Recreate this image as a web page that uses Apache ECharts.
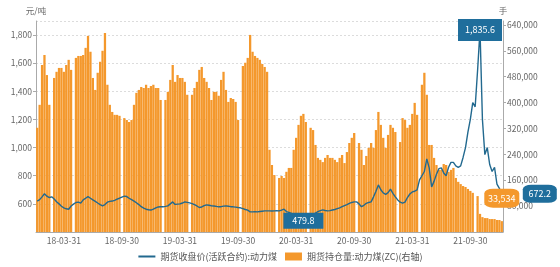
<!DOCTYPE html>
<html>
<head>
<meta charset="utf-8">
<script src="https://cdn.jsdelivr.net/npm/echarts@6/dist/echarts.min.js"></script>
<style>html,body{margin:0;padding:0;background:#fff;}#c{width:560px;height:267px;}</style>
</head>
<body>
<div id="c"></div>
<script>
// categories: 4 sampling dates per month, Jan 2018 – Jan 2022
const years = [2018, 2019, 2020, 2021];
const categories = [];
years.forEach(y => {
  for (let m = 1; m <= 12; m++) {
    const last = new Date(y, m, 0).getDate();
    [8, 15, 23, last].forEach(d => {
      categories.push(String(y).slice(2) + '-' + String(m).padStart(2, '0') + '-' + String(d).padStart(2, '0'));
    });
  }
});
categories.push('22-01-08');

const xLabelDates = ['03-31', '09-30'];

// 期货收盘价(活跃合约):动力煤 (元/吨)
const closePrice = [
620,630,650,672,655,645,650,635,615,600,583,572,565,562,585,598,610,612,605,628,
640,652,640,628,618,606,595,585,595,612,618,620,625,633,640,648,655,652,640,630,
620,608,595,580,570,562,558,556,562,572,578,580,579,582,586,600,614,596,598,600,
606,614,611,607,602,594,585,574,578,588,593,590,587,585,582,579,580,584,586,583,
580,579,577,574,572,566,560,555,543,543,544,543,546,548,550,550,550,549,550,551,
550,556,562,545,540,532,522,512,505,492,479.8,486,498,510,522,535,545,552,557,553,
550,552,556,560,566,572,580,588,595,603,610,614,614,600,580,590,604,610,614,650,
690,735,700,678,668,680,705,675,650,628,612,605,612,645,670,685,690,700,770,800,
830,920,856,721,760,810,850,856,820,800,860,895,895,870,860,870,930,1000,1110,1200,
1320,1290,1550,1835.6,1200,950,1000,880,830,860,740,710,672.2
];

// 期货持仓量:动力煤(ZC) (手, 右轴)
const openInterest = [
322000,393000,516000,547000,485000,393000,0,476000,495000,507000,507000,495000,516000,532000,501000,0,538000,544000,544000,547000,
569000,606000,557000,476000,439000,492000,526000,560000,615000,455000,393000,371000,362000,362000,359000,0,352000,346000,340000,346000,
393000,430000,439000,448000,445000,455000,445000,451000,455000,445000,445000,408000,0,408000,433000,470000,516000,464000,485000,476000,
476000,464000,424000,0,424000,445000,464000,501000,510000,476000,464000,445000,408000,433000,433000,421000,470000,495000,439000,402000,
414000,411000,402000,346000,0,513000,523000,538000,609000,557000,544000,538000,532000,519000,510000,495000,254000,207000,176000,0,
167000,173000,167000,186000,198000,198000,254000,291000,331000,359000,365000,340000,0,322000,315000,269000,229000,223000,216000,229000,
238000,229000,229000,223000,216000,229000,238000,213000,247000,275000,291000,306000,0,275000,254000,207000,235000,260000,275000,260000,
315000,371000,331000,291000,260000,300000,331000,322000,309000,0,278000,352000,346000,322000,331000,365000,399000,362000,0,455000,
492000,424000,269000,269000,229000,207000,192000,192000,210000,207000,186000,192000,198000,167000,155000,148000,142000,139000,133000,127000,
121000,0,111000,56000,46000,43000,43000,40000,40000,40000,37000,37000,33534
];

const leftTicks = {min: 400, max: 1900, interval: 200};
const rightTicks = {min: 0, max: 652000, interval: 80000};

const BLUE = '#22698f';
const BOX_BLUE = '#1f6e9c';
const ORANGE = '#f4982c';
const FONT = '"Noto Sans CJK SC", "Noto Sans", sans-serif';

const fmt = (v, d) => Number(v).toLocaleString('en-US', {minimumFractionDigits: d, maximumFractionDigits: d});
const lastIdx = categories.length - 1;

const chart = echarts.init(document.getElementById('c'), null, {renderer: 'canvas'});
chart.setOption({
  animation: false,
  textStyle: {fontFamily: FONT},
  grid: {left: 36, right: 57, top: 21, bottom: 35},
  legend: {
    bottom: 1, left: 'center', itemWidth: 17, itemHeight: 8, itemGap: 8,
    textStyle: {fontSize: 9, color: '#555', fontFamily: FONT},
    data: [
      {name: '期货收盘价(活跃合约):动力煤', itemStyle: {opacity: 0}},
      {name: '期货持仓量:动力煤(ZC)(右轴)', icon: 'rect'}
    ]
  },
  xAxis: {
    type: 'category', data: categories, boundaryGap: true,
    axisLine: {lineStyle: {color: '#aaa'}},
    axisTick: {alignWithLabel: true, length: 4, lineStyle: {color: '#aaa'},
      interval: (i) => i % 4 === 3},
    axisLabel: {fontSize: 8.5, color: '#666', margin: 5, fontFamily: FONT,
      interval: (i, v) => xLabelDates.some(s => v.endsWith(s))}
  },
  yAxis: [{
    type: 'value', min: leftTicks.min, max: leftTicks.max, interval: leftTicks.interval,
    name: '元/吨', nameGap: 6, nameTextStyle: {fontSize: 8.5, color: '#666', fontFamily: FONT},
    axisLine: {show: true, lineStyle: {color: '#aaa'}},
    axisTick: {show: true, length: 3, lineStyle: {color: '#aaa'}},
    axisLabel: {fontSize: 8.5, color: '#666', margin: 4, showMinLabel: false, showMaxLabel: false, fontFamily: FONT},
    splitLine: {show: true, lineStyle: {color: '#dcdcdc', type: [2, 2]}}
  }, {
    type: 'value', min: rightTicks.min, max: rightTicks.max, interval: rightTicks.interval,
    name: '手', nameGap: 6, nameTextStyle: {fontSize: 8.5, color: '#666', fontFamily: FONT},
    axisLine: {show: true, lineStyle: {color: '#aaa'}},
    axisTick: {show: true, length: 3, lineStyle: {color: '#aaa'}},
    axisLabel: {fontSize: 8.5, color: '#666', margin: 4, showMinLabel: false, showMaxLabel: false, fontFamily: FONT},
    splitLine: {show: false}
  }],
  series: [{
    name: '期货持仓量:动力煤(ZC)(右轴)', type: 'bar', yAxisIndex: 1, data: openInterest,
    barCategoryGap: '6%', itemStyle: {color: ORANGE}, z: 2,
    markPoint: {
      symbol: 'roundRect', symbolSize: [35, 19], symbolOffset: [0, -23],
      itemStyle: {color: ORANGE},
      label: {color: '#fff', fontSize: 9, fontFamily: FONT, formatter: p => fmt(p.value, 0)},
      data: [{coord: [categories[lastIdx], openInterest[lastIdx]], value: openInterest[lastIdx]}]
    }
  }, {
    name: '期货收盘价(活跃合约):动力煤', type: 'line', yAxisIndex: 0, data: closePrice,
    symbol: 'none', lineStyle: {color: BLUE, width: 1.4}, itemStyle: {color: BLUE}, z: 3,
    markPoint: {
      symbol: 'rect', itemStyle: {color: BOX_BLUE, opacity: 1},
      label: {color: '#fff', fontSize: 9, fontFamily: FONT, formatter: p => fmt(p.value, 1)},
      data: [
        {type: 'max', symbolSize: [44, 22]},
        {type: 'min', symbolSize: [40, 16]},
        {coord: [categories[lastIdx], closePrice[lastIdx]], value: closePrice[lastIdx],
         symbol: 'roundRect', symbolSize: [34, 18], symbolOffset: [38, 0]}
      ]
    }
  }]
});
</script>
</body>
</html>
